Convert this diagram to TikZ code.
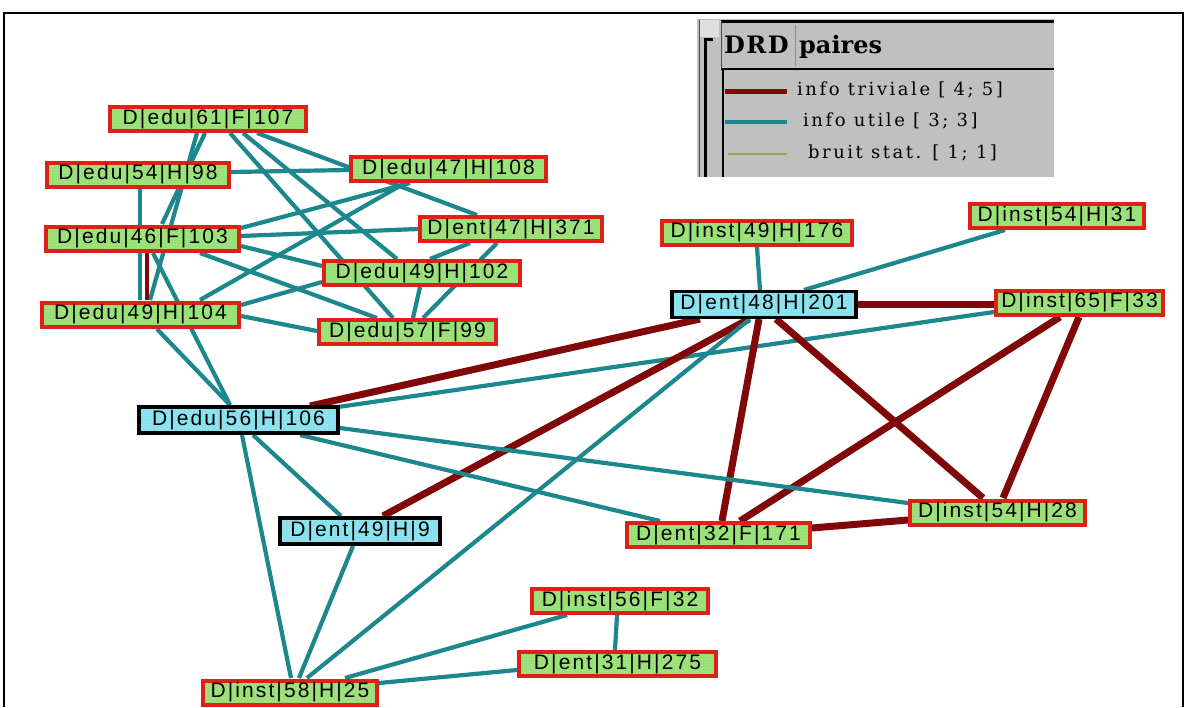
\documentclass[tikz,border=0pt]{standalone}
\usepackage{fontspec}
\setmainfont{DejaVu Serif}
\newfontfamily\nodefont[LetterSpace=10]{Liberation Sans}
\newfontfamily\legfont[LetterSpace=14]{DejaVu Serif}
\newfontfamily\headfont[LetterSpace=6]{DejaVu Serif}
\usetikzlibrary{calc,backgrounds,patterns}

\definecolor{edgeteal}{RGB}{28,135,140}
\definecolor{edgered}{RGB}{128,8,8}
\definecolor{boxred}{RGB}{222,32,24}
\definecolor{boxgreen}{RGB}{150,224,120}
\definecolor{boxdots}{RGB}{232,242,140}
\definecolor{boxcyan}{RGB}{135,224,238}
\definecolor{cyandots}{RGB}{215,248,250}
\definecolor{legendgray}{RGB}{192,192,192}
\definecolor{noise}{RGB}{168,160,72}

\tikzset{
  lbl/.style={inner sep=0pt, minimum height=24pt, text=black,
              font=\nodefont\fontsize{21pt}{21pt}\selectfont},
  gbox/.style={lbl, draw=boxred, line width=4pt,
               preaction={fill=boxgreen}, pattern=dots, pattern color=boxdots},
  bbox/.style={lbl, draw=black, line width=3.5pt, minimum height=26pt,
               preaction={fill=boxcyan}, pattern=dots, pattern color=cyandots},
  tl/.style={draw=edgeteal, line width=4.2pt},
  rl/.style={draw=edgered, line width=7pt},
}

\begin{document}
\begin{tikzpicture}[x=1pt,y=-1pt]
\useasboundingbox (0,0) rectangle (1186,707);

% ---- boxes -----------------------------------------------------------
\node[gbox, minimum width=196pt] (n61)  at (208,119)   {D|edu|61|F|107};
\node[gbox, minimum width=182pt] (n54)  at (138,174.5) {D|edu|54|H|98};
\node[gbox, minimum width=195pt] (n47)  at (448.5,169) {D|edu|47|H|108};
\node[gbox, minimum width=193pt] (n46)  at (142.5,238.5) {D|edu|46|F|103};
\node[gbox, minimum width=182pt] (e47)  at (511,229)   {D|ent|47|H|371};
\node[gbox, minimum width=196pt] (n102) at (422,273)   {D|edu|49|H|102};
\node[gbox, minimum width=197pt] (n104) at (140.5,314.5) {D|edu|49|H|104};
\node[gbox, minimum width=177pt] (n99)  at (407.5,332)  {D|edu|57|F|99};
\node[bbox, minimum width=199pt] (n106) at (238.5,420)  {D|edu|56|H|106};
\node[gbox, minimum width=190pt] (i176) at (757,232.5)  {D|inst|49|H|176};
\node[gbox, minimum width=174pt] (i31)  at (1057,216)   {D|inst|54|H|31};
\node[bbox, minimum width=184pt] (e201) at (764,304.5)  {D|ent|48|H|201};
\node[gbox, minimum width=167pt] (i33)  at (1079.5,302.5) {D|inst|65|F|33};
\node[bbox, minimum width=160pt] (e9)   at (360,531)    {D|ent|49|H|9};
\node[gbox, minimum width=183pt] (e171) at (718.5,535)  {D|ent|32|F|171};
\node[gbox, minimum width=175pt] (i28)  at (997.5,512.5) {D|inst|54|H|28};
\node[gbox, minimum width=176pt] (i32)  at (620,601)    {D|inst|56|F|32};
\node[gbox, minimum width=197pt] (e275) at (617.5,664)  {D|ent|31|H|275};
\node[gbox, minimum width=174pt] (i25)  at (290,692.5)  {D|inst|58|H|25};

% ---- links, under the boxes ------------------------------------------
\begin{pgfonlayer}{background}
\fill[white] (0,0) rectangle (1186,707);

% upper-left group
\draw[tl] ($(n61)+(49,14)$)   -- ($(e47)+(-34,-14)$);
\draw[tl] ($(n61)+(35,14)$)   -- ($(n102)+(-25,-14)$);
\draw[tl] ($(n61)+(22,14)$)   -- ($(n99)+(-14.5,-14)$);
\draw[tl] ($(n61)+(-3,14)$)   -- ($(n46)+(19.5,-14.5)$);
\draw[tl] ($(n61)+(-11,14)$)  -- ($(n104)+(9.5,-14.5)$);
\draw[tl] ($(n54)+(93,-2.5)$) -- ($(n47)+(-99.5,1)$);
\draw[tl] ($(n54)+(2,14.5)$)  -- ($(n104)+(-0.5,-14.5)$);
\draw[tl] ($(n46)+(98.5,-2.5)$) -- ($(e47)+(-93,0)$);
\draw[tl] ($(n46)+(98.5,-10.5)$) -- ($(n47)+(-38.5,14)$);
\draw[tl] ($(n46)+(98.5,7.5)$) -- ($(n102)+(-100,-7)$);
\draw[tl] ($(n46)+(57.5,14.5)$) -- ($(n99)+(-30.5,-14)$);
\draw[tl] ($(n46)+(10.5,14.5)$) -- ($(n106)+(-8.5,-15)$);
\draw[rl, line width=4pt] ($(n46)+(4.5,14.5)$) -- ($(n104)+(6.5,-14.5)$);
\draw[tl] ($(n104)+(59.5,-14.5)$) -- ($(n47)+(-43.5,14)$);
\draw[tl] ($(n104)+(100.5,-9.5)$) -- ($(n102)+(-100,9)$);
\draw[tl] ($(n104)+(100.5,1.5)$)  -- ($(n99)+(-90.5,-1)$);
\draw[tl] ($(n104)+(16.5,14.5)$)  -- ($(n106)+(-8.5,-15)$);
\draw[tl] ($(e47)+(-41,14)$)  -- ($(n102)+(8,-14)$);
\draw[tl] ($(e47)+(-14,14)$)  -- ($(n99)+(15.5,-14)$);
\draw[tl] ($(n102)+(-2,14)$)  -- ($(n99)+(5.5,-14)$);

% main group
\draw[tl] ($(i176)+(0,14.5)$)   -- ($(e201)+(-4,-14.5)$);
\draw[tl] ($(e201)+(40,-14.5)$) -- ($(i31)+(-52,14)$);
\draw[rl] ($(e201)+(94,0)$)     -- ($(i33)+(-85.5,2)$);
\draw[tl] ($(i33)+(-85.5,9.5)$) -- ($(n106)+(99.5,-13)$);
\draw[rl] ($(n106)+(71.5,-14)$) -- ($(e201)+(-64,14.5)$);
\draw[rl] ($(e9)+(23,-15)$)     -- ($(e201)+(-15,14.5)$);
\draw[tl] ($(i25)+(17,-14.5)$)  -- ($(e201)+(-14,14.5)$);
\draw[rl] ($(e201)+(-5,14.5)$)  -- ($(e171)+(3.5,-14)$);
\draw[rl] ($(e201)+(12,14.5)$)  -- ($(i28)+(-14.5,-14.5)$);
\draw[rl] ($(i33)+(-19.5,14.5)$) -- ($(e171)+(21.5,-14)$);
\draw[rl] ($(i33)+(-0.5,14.5)$) -- ($(i28)+(5.5,-14.5)$);
\draw[rl] ($(e171)+(93.5,-7)$)  -- ($(i28)+(-89.5,7.5)$);
\draw[tl] ($(n106)+(101.5,8)$)  -- ($(i28)+(-89.5,-9.5)$);
\draw[tl] ($(n106)+(61.5,15)$)  -- ($(e171)+(-58.5,-14)$);
\draw[tl] ($(n106)+(14.5,15)$)  -- ($(e9)+(-19,-15)$);
\draw[tl] ($(n106)+(3.5,15)$)   -- ($(i25)+(1,-14.5)$);
\draw[tl] ($(e9)+(-7,15)$)      -- ($(i25)+(9,-14.5)$);
\draw[tl] ($(i32)+(-53,14)$)    -- ($(i25)+(55,-14.5)$);
\draw[tl] ($(i32)+(-3,14)$)     -- ($(e275)+(-2.5,-14)$);
\draw[tl] ($(e275)+(-100.5,6)$) -- ($(i25)+(89,-9.5)$);
\end{pgfonlayer}

% ---- legend panel ----------------------------------------------------
\fill[legendgray] (697,19) rectangle (1054,177);
\fill[gray!25] (699,20) rectangle (719,37);
\draw[black!70, line width=1pt] (699,20) -- (699,177);
\draw[black, line width=3pt] (713,39) -- (705,39) -- (705,177);
\draw[black, line width=3pt] (721,21) -- (1054,21);
\draw[black, line width=1.2pt] (721,69) -- (1054,69);
\draw[black!70, line width=1pt] (721,21) -- (721,69);
\draw[black!45, line width=0.8pt] (795,25) -- (795,66);
\draw[black, line width=2pt] (723,69) -- (723,177);

\node[anchor=base west, inner sep=0pt, font=\headfont\bfseries\fontsize{24pt}{24pt}\selectfont] (hdrA) at (724,53) {DRD};
\node[anchor=base west, inner sep=0pt, font=\bfseries\fontsize{24pt}{24pt}\selectfont] (hdrB) at (799,53) {paires};

\draw[edgered, line width=5pt] (725,91) -- (787,91);
\draw[edgeteal, line width=4pt] (725,122) -- (787,122);
\draw[noise, line width=2pt] (728,154) -- (787,154);

\node[anchor=west, inner sep=0pt, font=\legfont\fontsize{18pt}{18pt}\selectfont] (key1) at (797,90) {info triviale [ 4; 5]};
\node[anchor=west, inner sep=0pt, font=\legfont\fontsize{18pt}{18pt}\selectfont] (key2) at (803,121) {info utile [ 3; 3]};
\node[anchor=west, inner sep=0pt, font=\legfont\fontsize{18pt}{18pt}\selectfont] (key3) at (808,153) {bruit stat. [ 1; 1]};

% ---- outer frame -----------------------------------------------------
\draw[black, line width=2pt] (4,707) -- (4,13) -- (1183,13) -- (1183,707);
\end{tikzpicture}
\end{document}
